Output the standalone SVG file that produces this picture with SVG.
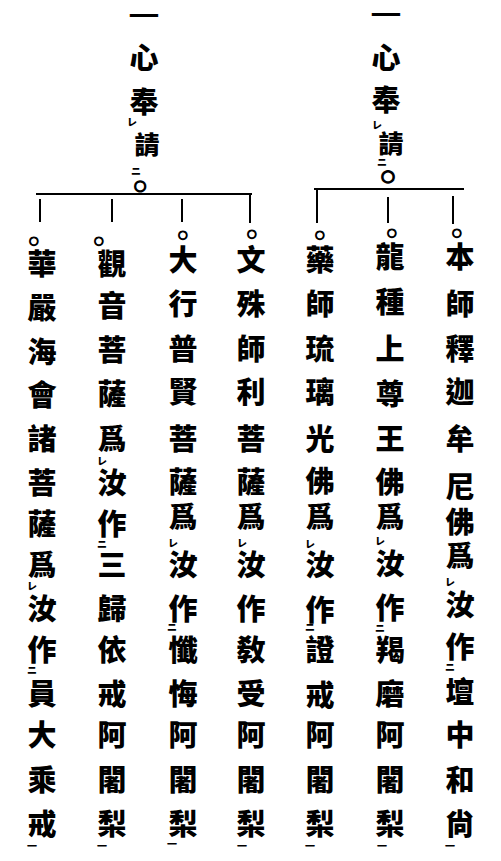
<svg xmlns="http://www.w3.org/2000/svg" width="501" height="861" viewBox="0 0 501 861">
<style>
.c{font-family:"Noto Sans CJK TC","Noto Sans CJK JP",sans-serif;font-size:29px;font-weight:900;fill:#000;text-anchor:middle;dominant-baseline:central}
.h{font-family:"Noto Sans CJK TC","Noto Sans CJK JP",sans-serif;font-size:29px;font-weight:900;fill:#000;text-anchor:middle;dominant-baseline:central}
.k{font-family:"Noto Sans CJK TC","Noto Sans CJK JP",sans-serif;font-size:10px;font-weight:900;fill:#000;text-anchor:start;dominant-baseline:central}
.o{font-family:"DejaVu Sans",sans-serif;font-size:11px;font-weight:700;fill:#000;stroke:#000;stroke-width:1.2;text-anchor:middle;dominant-baseline:central}
.ln{stroke:#000;stroke-width:2;fill:none}
</style>
<rect width="501" height="861" fill="#fff"/>
<g id="connectors">
<line class="ln" x1="314" y1="189" x2="464" y2="189"/>
<line class="ln" x1="453" y1="196" x2="453" y2="224"/>
<line class="ln" x1="388" y1="197" x2="388" y2="223"/>
<line class="ln" x1="317" y1="189" x2="317" y2="223"/>
<line class="ln" x1="36" y1="194" x2="252" y2="194"/>
<line class="ln" x1="250" y1="194" x2="250" y2="223"/>
<line class="ln" x1="182" y1="199" x2="182" y2="222"/>
<line class="ln" x1="112" y1="199" x2="112" y2="222"/>
<line class="ln" x1="40" y1="199" x2="40" y2="222"/>
</g>
<g id="header-right">
<text class="h" transform="translate(386,14) scale(1.6,1)" x="0" y="0" style="font-size:19px">一</text>
<text class="h" x="386" y="56">心</text>
<text class="h" x="386" y="98">奉</text>
<text class="k" x="372" y="124">レ</text>
<text class="h" x="391" y="142" style="font-size:25px">請</text>
<text class="k" x="377" y="161">ニ</text>
<text class="o" x="388" y="175" style="font-size:16px;stroke-width:1.6">○</text>
</g>
<g id="header-left">
<text class="h" transform="translate(144,15) scale(1.6,1)" x="0" y="0" style="font-size:19px">一</text>
<text class="h" x="144" y="56">心</text>
<text class="h" x="144" y="100">奉</text>
<text class="k" x="127" y="121">レ</text>
<text class="h" x="147" y="143" style="font-size:25px">請</text>
<text class="k" x="131" y="170">ニ</text>
<text class="o" x="140" y="185" style="font-size:14px;stroke-width:1.5">○</text>
</g>
<g id="col1">
<text class="o" x="457" y="232">○</text>
<text class="c" x="460 460 460 460 460 460 460 460 460 460 460 460 460 460" y="255 302 347 390 437 485 520 554 603 645 690 733 778 822">本師釋迦牟尼佛爲汝作壇中和尙</text>
<text class="k" x="445" y="581">レ</text>
<text class="k" x="445" y="666">ニ</text>
<text class="k" x="445" y="845">一</text>
</g>
<g id="col2">
<text class="o" x="392" y="232">○</text>
<text class="c" x="390 390 390 390 390 390 390 390 390 390 390 390 390 390" y="255 300 347 392 437 480 515 562 606 648 692 733 778 822">龍種上尊王佛爲汝作羯磨阿闍梨</text>
<text class="k" x="375" y="540">レ</text>
<text class="k" x="375" y="627">ニ</text>
<text class="k" x="377" y="845">一</text>
</g>
<g id="col3">
<text class="o" x="320" y="234">○</text>
<text class="c" x="320 320 320 320 320 320 320 320 320 320 320 320 320 320" y="258 302 347 390 437 479 515 563 608 648 693 733 778 822">藥師琉璃光佛爲汝作證戒阿闍梨</text>
<text class="k" x="305" y="543">レ</text>
<text class="k" x="305" y="626">ニ</text>
<text class="k" x="305" y="845">一</text>
</g>
<g id="col4">
<text class="o" x="252" y="233">○</text>
<text class="c" x="251 251 251 251 251 251 251 251 251 251 251 251 251 251" y="258 302 347 390 437 480 515 563 607 648 692 733 778 822">文殊師利菩薩爲汝作敎受阿闍梨</text>
<text class="k" x="237" y="542">レ</text>
<text class="k" x="237" y="845">一</text>
</g>
<g id="col5">
<text class="o" x="183" y="234">○</text>
<text class="c" x="183 183 183 183 183 183 183 183 183 183 183 183 183 183" y="258 302 347 390 437 480 515 563 607 648 692 733 778 822">大行普賢菩薩爲汝作懺悔阿闍梨</text>
<text class="k" x="168" y="542">レ</text>
<text class="k" x="167" y="626">ニ</text>
<text class="k" x="167" y="843">一</text>
</g>
<g id="col6">
<text class="o" x="99" y="240">○</text>
<text class="c" x="112 112 112 112 112 112 112 112 112 112 112 112 112 112" y="262 304 348 392 437 481 522 563 607 648 692 733 778 822">觀音菩薩爲汝作三歸依戒阿闍梨</text>
<text class="k" x="97" y="460">レ</text>
<text class="k" x="97" y="543">ニ</text>
<text class="k" x="97" y="845">一</text>
</g>
<g id="col7">
<text class="o" x="34" y="240">○</text>
<text class="c" x="42 42 42 42 42 42 42 42 42 42 42 42 42 42" y="262 306 350 393 437 481 522 563 607 648 692 733 778 822">華嚴海會諸菩薩爲汝作員大乘戒</text>
<text class="k" x="27" y="585">レ</text>
<text class="k" x="27" y="669">ニ</text>
<text class="k" x="27" y="845">一</text>
</g>
</svg>
